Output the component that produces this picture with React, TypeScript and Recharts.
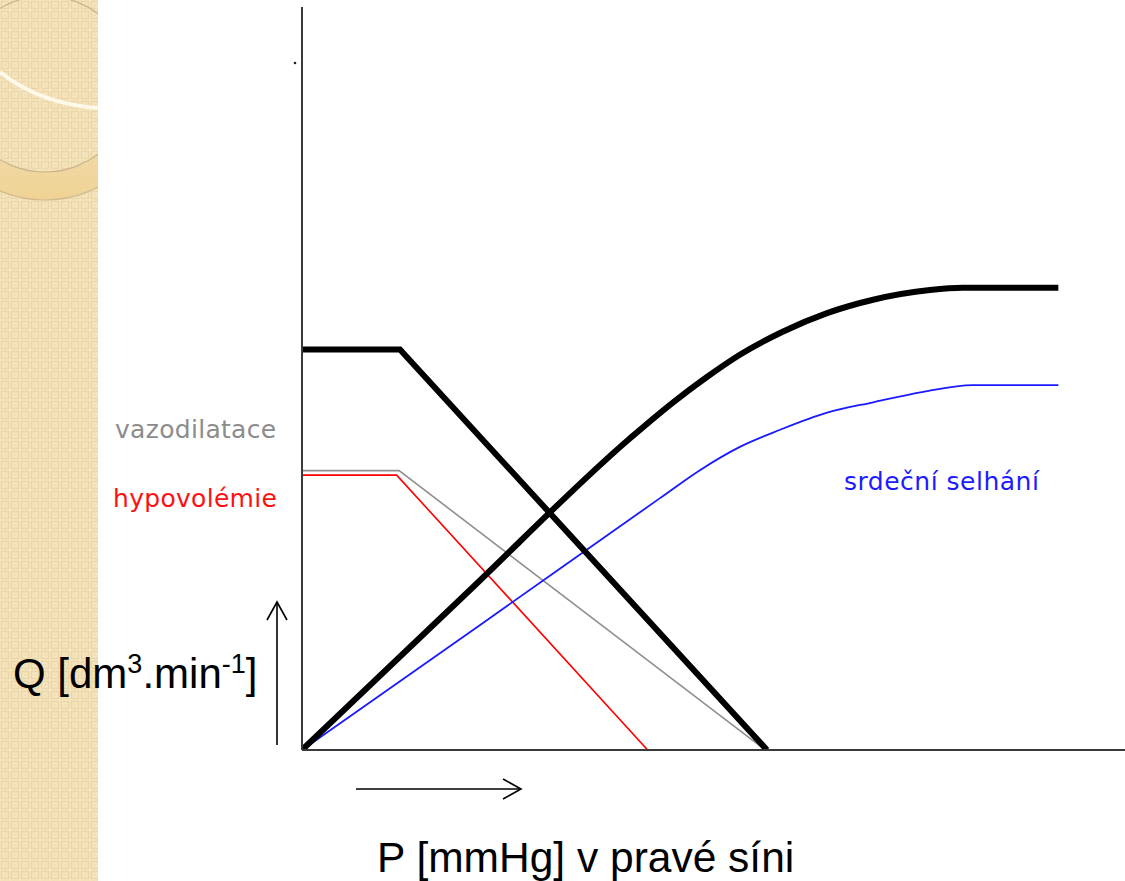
import { LineChart, Line, XAxis, YAxis } from 'recharts'

// Guytonovy křivky: žilní návrat a srdeční výdej vs. tlak v pravé síni
type Pt = { p: number; q: number }

const normalReturn: Pt[] = [
  { p: 0, q: 53.9 },
  { p: 11.9, q: 53.9 },
  { p: 56.5, q: 0 },
]

const vasodilatationReturn: Pt[] = [
  { p: 0, q: 37.6 },
  { p: 11.8, q: 37.6 },
  { p: 56.3, q: 0 },
]

const hypovolemiaReturn: Pt[] = [
  { p: 0, q: 37.0 },
  { p: 11.5, q: 37.0 },
  { p: 42.0, q: 0 },
]

const normalOutput: Pt[] = [
  { p: 0, q: 0 },
  { p: 19.9, q: 21.0 },
  { p: 39.9, q: 42.0 },
  { p: 45.1, q: 46.8 },
  { p: 49.2, q: 50.2 },
  { p: 53.2, q: 53.2 },
  { p: 58.4, q: 56.3 },
  { p: 63.8, q: 58.8 },
  { p: 69.4, q: 60.6 },
  { p: 76.3, q: 61.9 },
  { p: 80.3, q: 62.2 },
  { p: 91.9, q: 62.2 },
]

const failureOutput: Pt[] = [
  { p: 0, q: 0 },
  { p: 21.6, q: 16.8 },
  { p: 43.5, q: 33.9 },
  { p: 48.4, q: 37.7 },
  { p: 53.2, q: 40.8 },
  { p: 58.1, q: 43.1 },
  { p: 63.8, q: 45.4 },
  { p: 69.4, q: 46.8 },
  { p: 75.5, q: 48.2 },
  { p: 81.5, q: 49.1 },
  { p: 91.9, q: 49.1 },
]

const AXIS = '#3a3a3a'
const SMALL_FONT = '"DejaVu Sans", Verdana, sans-serif'
const BIG_FONT = '"Liberation Sans", Arial, sans-serif'

function SideStrip() {
  return (
    <svg width={98} height={881} style={{ position: 'absolute', left: 0, top: 0 }}>
      <defs>
        <pattern id="chk" width={10} height={10} patternUnits="userSpaceOnUse">
          <rect width={10} height={10} fill="#f6e5bd" />
          <rect x={1.5} y={1.5} width={7} height={7} fill="none" stroke="#ead6ab" strokeWidth={1.5} />
          <rect x={4} y={4} width={2} height={2} fill="#efdcb2" />
        </pattern>
        <linearGradient id="band" x1="0" y1="0" x2="0" y2="1">
          <stop offset="0" stopColor="#f3dfb0" stopOpacity={0} />
          <stop offset="0.75" stopColor="#f1d79f" stopOpacity={0.6} />
          <stop offset="1" stopColor="#efd394" stopOpacity={1} />
        </linearGradient>
      </defs>
      <rect width={98} height={881} fill="url(#chk)" />
      <path
        d="M45,-32 a116,116 0 1,0 0.01,0 Z M45,-4 a88,88 0 1,1 -0.01,0 Z"
        fill="url(#band)"
        fillRule="evenodd"
      />
      <circle cx={45} cy={84} r={88} fill="none" stroke="#cdb48a" strokeWidth={1.2} />
      <circle cx={45} cy={84} r={116} fill="none" stroke="#d2ba90" strokeWidth={1.2} />
      <path d="M0,72 Q40,104 98,108" fill="none" stroke="#fff9ea" strokeWidth={4} />
    </svg>
  )
}

function Overlay() {
  return (
    <svg width={1125} height={881} style={{ position: 'absolute', left: 0, top: 0, pointerEvents: 'none' }}>
      <circle cx={295} cy={63} r={1.3} fill="#222" />
      <text x={115} y={438} fontFamily={SMALL_FONT} fontSize={25} letterSpacing={0.3} fill="#8c8c8c">
        vazodilatace
      </text>
      <text x={113} y={507} fontFamily={SMALL_FONT} fontSize={25} letterSpacing={0.3} fill="#ff1010">
        hypovolémie
      </text>
      <text x={844} y={490} fontFamily={SMALL_FONT} fontSize={25} letterSpacing={0.5} fill="#1c1cff">
        srdeční selhání
      </text>
      <text x={13} y={688} fontFamily={BIG_FONT} fontSize={42} fill="#000">
        Q [dm
        <tspan fontSize={27} dy={-15}>3</tspan>
        <tspan dy={15}>.min</tspan>
        <tspan fontSize={27} dy={-15}>-1</tspan>
        <tspan dy={15}>]</tspan>
      </text>
      <text x={377} y={872} fontFamily={BIG_FONT} fontSize={42.5} fill="#000">
        P [mmHg] v pravé síni
      </text>
      <g stroke="#000" strokeWidth={1.6} fill="none">
        <line x1={277} y1={745} x2={277} y2={602} />
        <polyline points="267,620 277,602 287,620" />
        <line x1={356} y1={789} x2={521} y2={789} />
        <polyline points="503,779 521,789 503,799" />
      </g>
    </svg>
  )
}

export default function App() {
  return (
    <div
      style={{
        position: 'absolute',
        left: 0,
        top: 0,
        width: 1125,
        height: 881,
        background: '#fff',
        overflow: 'hidden',
      }}
    >
      <SideStrip />
      <div style={{ position: 'absolute', left: 0, top: 0 }}>
        <LineChart width={1125} height={881} margin={{ top: 7, right: 0, bottom: 129, left: 300 }}>
          <XAxis
            type="number"
            dataKey="p"
            domain={[0, 100]}
            height={2}
            tick={false}
            tickLine={false}
            axisLine={{ stroke: AXIS, strokeWidth: 2 }}
            allowDataOverflow
          />
          <YAxis
            type="number"
            dataKey="q"
            domain={[0, 100]}
            width={2}
            tick={false}
            tickLine={false}
            axisLine={{ stroke: AXIS, strokeWidth: 2 }}
            allowDataOverflow
          />
          <Line data={vasodilatationReturn} dataKey="q" type="linear" stroke="#8f8f8f" strokeWidth={1.6} dot={false} isAnimationActive={false} />
          <Line data={hypovolemiaReturn} dataKey="q" type="linear" stroke="#ff0000" strokeWidth={1.6} dot={false} isAnimationActive={false} />
          <Line data={failureOutput} dataKey="q" type="monotone" stroke="#1a1aff" strokeWidth={1.8} dot={false} isAnimationActive={false} />
          <Line data={normalReturn} dataKey="q" type="linear" stroke="#000" strokeWidth={6} dot={false} isAnimationActive={false} />
          <Line data={normalOutput} dataKey="q" type="monotone" stroke="#000" strokeWidth={6} dot={false} isAnimationActive={false} />
        </LineChart>
      </div>
      <Overlay />
    </div>
  )
}
